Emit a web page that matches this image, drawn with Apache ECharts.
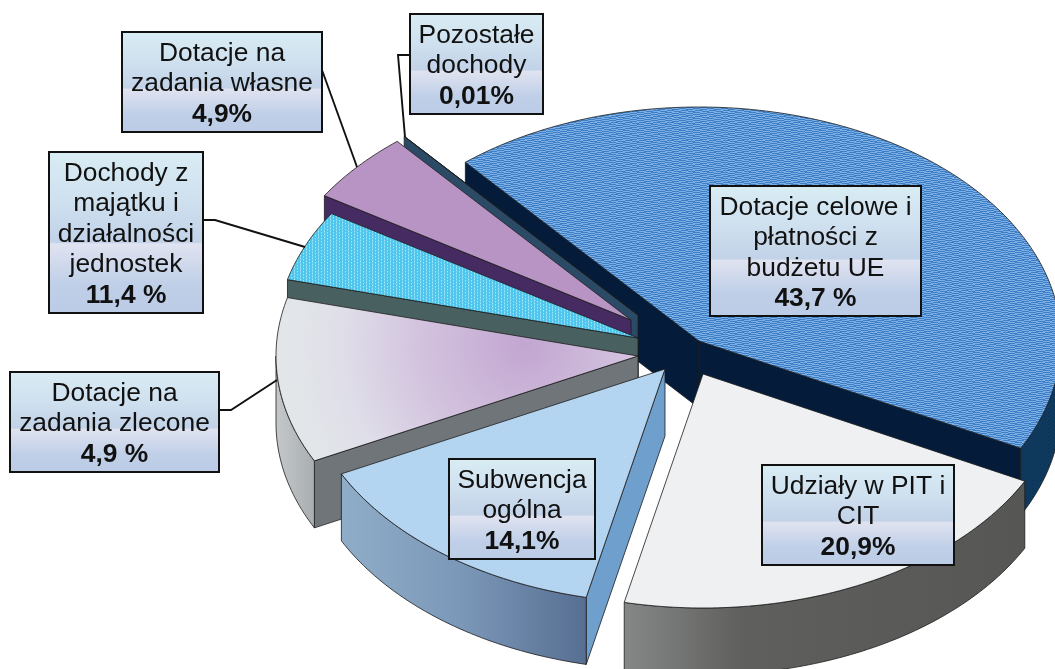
<!DOCTYPE html>
<html>

<head>
<meta charset="UTF-8">
<title></title>
<script src="https://cdn.jsdelivr.net/npm/echarts@6/dist/echarts.min.js"></script>
<style>
	html, body { margin: 0; padding: 0; background: #fff; overflow: hidden; }
	#main { width: 1055px; height: 669px; }
</style>
</head>

<body>
	<div id="main"></div>
	<script>
		// slice order is clockwise, starting at the big blue one
		var sliceNames = ['Dotacje celowe', 'Udziały', 'Subwencja', 'Zlecone', 'Majątek', 'Własne', 'Pozostałe'];
		// slice sizes as they are drawn (the printed labels of two slices are swapped in the original)
		var sliceValues = [43.7, 20.9, 14.1, 11.4, 4.9, 4.9, 0.01];

		var labelLines = [
			['Dotacje celowe i', 'płatności z', 'budżetu UE'],
			['Udziały w PIT i', 'CIT'],
			['Subwencja', 'ogólna'],
			['Dotacje na', 'zadania zlecone'],
			['Dochody z', 'majątku i', 'działalności', 'jednostek'],
			['Dotacje na', 'zadania własne'],
			['Pozostałe', 'dochody']
		];
		var labelValues = ['43,7 %', '20,9%', '14,1%', '4,9 %', '11,4 %', '4,9%', '0,01%'];

		// layout of the tilted pie
		var rx = 362, ry = 234, depth = 67, startAngle = -40.2;
		var centers = [[699, 341], [703, 374], [665, 369], [638, 356], [638, 338], [631, 320], [638, 315]];
		var drawOrder = [0, 6, 5, 4, 3, 2, 1]; // back to front

		// left, top, width, height of the boxes
		var boxes = [[710, 186, 211, 130], [762, 465, 192, 100], [449, 459, 146, 100], [10, 372, 209, 100],
			[49, 152, 154, 161], [122, 32, 200, 100], [410, 14, 133, 100]];
		var leaders = [null, null, null,
			[[219, 410], [231, 410], [277, 380]],
			[[203, 220], [215, 220], [305, 247]],
			[[322, 70], [357, 167]],
			[[410, 55], [398, 55], [405, 137]]];

		function tile(w, h, base, draw) {
			var c = document.createElement('canvas');
			c.width = w; c.height = h;
			var g = c.getContext('2d');
			g.fillStyle = base;
			g.fillRect(0, 0, w, h);
			draw(g);
			return { image: c, repeat: 'repeat' };
		}
		var bluePattern = tile(14, 6, '#3d7fc7', function (g) {
			g.fillStyle = '#7dafe5';
			g.fillRect(0, 0, 7, 1); g.fillRect(2, 2, 7, 1); g.fillRect(0, 4, 7, 1);
			g.fillRect(7, 1, 7, 1); g.fillRect(9, 3, 5, 1); g.fillRect(0, 3, 2, 1); g.fillRect(7, 5, 7, 1);
		});
		var cyanPattern = tile(6, 3, '#4fc6ee', function (g) {
			g.fillStyle = '#a5e6f9';
			g.fillRect(0, 0, 1, 1); g.fillRect(3, 1, 1, 1);
			g.fillStyle = '#76d5f3';
			g.fillRect(0, 1, 1, 2); g.fillRect(3, 2, 1, 1);
		});
		var wallPattern = tile(4, 4, '#0e3a60', function (g) {
			g.fillStyle = '#0a2f50';
			g.fillRect(0, 0, 1, 1); g.fillRect(2, 2, 1, 1);
		});
		var subPattern = tile(4, 4, '#b2d4f1', function (g) {
			g.fillStyle = '#bbd9f3';
			g.fillRect(0, 0, 1, 1); g.fillRect(2, 2, 1, 1);
		});

		function hGrad(x0, x1, stops) {
			return new echarts.graphic.LinearGradient(x0, 0, x1, 0, stops, true);
		}
		var grayTop = new echarts.graphic.RadialGradient(525, 345, 235, [
			{ offset: 0, color: '#c2a6d1' },
			{ offset: 0.45, color: '#d3c3de' },
			{ offset: 0.78, color: '#dfdee9' },
			{ offset: 1, color: '#e2e6e9' }
		], true);

		// top surface, outer wall, radial wall
		var tops = [bluePattern, '#eef0f1', subPattern, grayTop, cyanPattern, '#b794c3', '#2b4a66'];
		var outerWalls = [wallPattern,
			hGrad(623, 1025, [{ offset: 0, color: '#858887' }, { offset: 0.3, color: '#5f5f5d' }, { offset: 1, color: '#565654' }]),
			hGrad(341, 586, [{ offset: 0, color: '#8fadc8' }, { offset: 0.5, color: '#7b97b8' }, { offset: 1, color: '#566f92' }]),
			hGrad(276, 314, [{ offset: 0, color: '#c4c8ca' }, { offset: 1, color: '#a9aeb0' }]),
			'#48605f', '#462b62', '#2b4a66'];
		var sideWalls = ['#041c3a', '#585856', '#6f9fcd', '#70757a', '#48605f', '#462b62', '#2b4a66'];

		var total = sliceValues.reduce(function (a, b) { return a + b; }, 0);
		var sliceAngles = [];
		var acc = startAngle;
		sliceValues.forEach(function (v) {
			var sweep = v / total * 360;
			sliceAngles.push([acc, acc + sweep]);
			acc += sweep;
		});

		// angle is clockwise from the top of the ellipse, in degrees
		function rim(c, a) {
			var t = a * Math.PI / 180;
			return [c[0] + rx * Math.sin(t), c[1] - ry * Math.cos(t)];
		}
		function arcPoints(c, a0, a1) {
			var pts = [];
			var n = Math.max(1, Math.ceil(Math.abs(a1 - a0)));
			for (var i = 0; i <= n; i++) {
				pts.push(rim(c, a0 + (a1 - a0) * i / n));
			}
			return pts;
		}
		function drop(p) {
			return [p[0], p[1] + depth];
		}
		function wall(points, fill) {
			return {
				type: 'polygon',
				shape: { points: points.concat(points.slice().reverse().map(drop)) },
				style: { fill: fill, stroke: '#1c1c1c', lineWidth: 0.8 }
			};
		}

		function renderSlice(params, api) {
			var i = api.value(0);
			var c = centers[i];
			var a0 = sliceAngles[i][0], a1 = sliceAngles[i][1];
			var kids = [];
			var s0 = Math.sin(a0 * Math.PI / 180), s1 = Math.sin(a1 * Math.PI / 180);
			// only the faces turned to the viewer
			if (s0 < 0) kids.push(wall([c, rim(c, a0)], sideWalls[i]));
			if (s1 > 0) kids.push(wall([rim(c, a1), c], sideWalls[i]));
			var from = Math.max(a0, 90), to = Math.min(a1, 270);
			if (to > from) kids.push(wall(arcPoints(c, from, to), outerWalls[i]));
			kids.push({
				type: 'polygon',
				shape: { points: [c].concat(arcPoints(c, a0, a1)) },
				style: { fill: tops[i], stroke: '#1c1c1c', lineWidth: 0.8 }
			});
			return { type: 'group', children: kids };
		}

		function renderLabel(params, api) {
			var i = api.value(0);
			var b = boxes[i];
			var lines = labelLines[i];
			var kids = [];
			if (leaders[i]) {
				kids.push({
					type: 'polyline',
					shape: { points: leaders[i] },
					style: { fill: 'none', stroke: '#111', lineWidth: 1.9 }
				});
			}
			kids.push({
				type: 'rect',
				shape: { x: b[0], y: b[1], width: b[2], height: b[3] },
				style: {
					stroke: '#111', lineWidth: 2,
					fill: new echarts.graphic.LinearGradient(0, 0, 0, 1, [
						{ offset: 0, color: '#d9edf4' },
						{ offset: 0.3, color: '#cfe0ef' },
						{ offset: 0.56, color: '#c2d2e8' },
						{ offset: 0.57, color: '#e0e3f0' },
						{ offset: 0.82, color: '#bfcfe8' },
						{ offset: 1, color: '#bccce6' }
					])
				}
			});
			var lh = 30.5;
			var n = lines.length + 1;
			var top = b[1] + b[3] / 2 - n * lh / 2 + lh / 2 + 2;
			var cx = b[0] + b[2] / 2;
			lines.concat(labelValues[i]).forEach(function (t, k) {
				kids.push({
					type: 'text',
					style: {
						text: t,
						x: cx, y: top + k * lh,
						align: 'center', verticalAlign: 'middle',
						fill: '#111',
						font: (k === n - 1 ? 'bold ' : '') + '26.4px "Liberation Sans", Arial, sans-serif'
					}
				});
			});
			return { type: 'group', children: kids };
		}

		var myChart = echarts.init(document.getElementById('main'));
		var option = {
			backgroundColor: '#fff',
			animation: false,
			series: [{
				type: 'custom',
				name: 'slices',
				coordinateSystem: 'none',
				renderItem: renderSlice,
				data: drawOrder.map(function (i) { return [i, sliceValues[i], sliceNames[i]]; }),
				z: 1,
				silent: true
			}, {
				type: 'custom',
				name: 'labels',
				coordinateSystem: 'none',
				renderItem: renderLabel,
				data: labelLines.map(function (l, i) { return [i]; }),
				z: 2,
				silent: true
			}]
		};
		myChart.setOption(option);
	</script>
</body>

</html>
